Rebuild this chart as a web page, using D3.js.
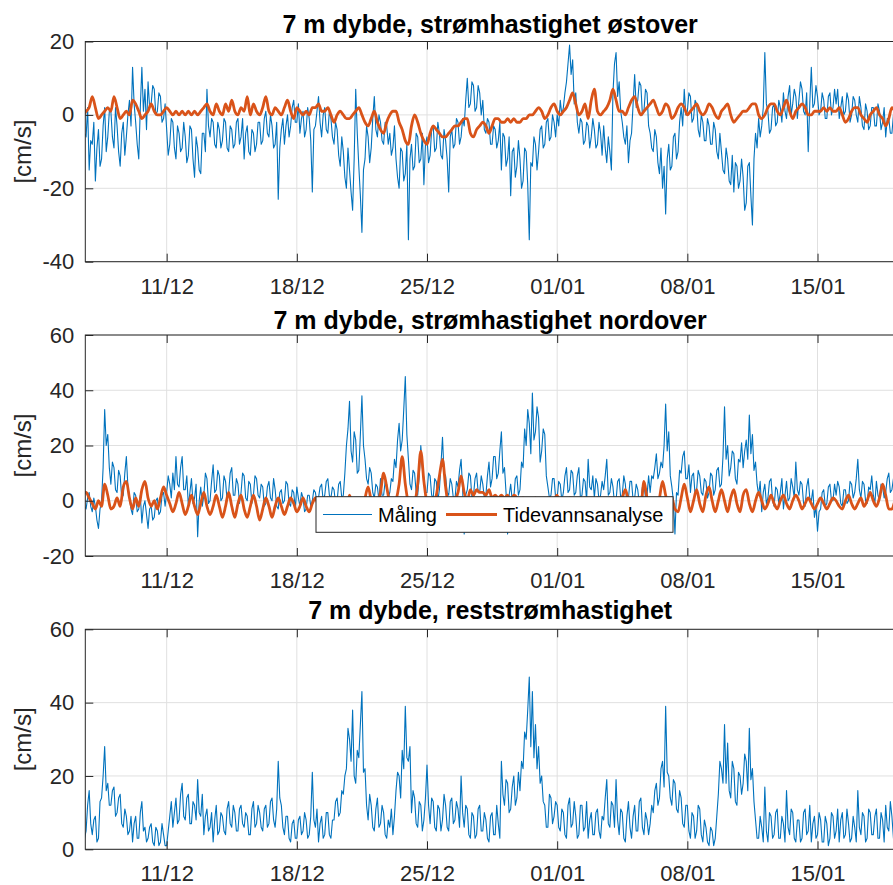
<!DOCTYPE html>
<html>
<head>
<meta charset="utf-8">
<script src="https://cdn.jsdelivr.net/npm/d3@7"></script>
<style>
    body { margin: 0; background: #fff; }
    svg { display: block; font-family: "Liberation Sans", Arial, Helvetica, sans-serif; }
</style>
</head>
<body>
<div id="d3-container"></div>
<script>
// Time base: first sample 06/12 00:00; measurements every 2 h, tidal analysis every 4 h
const startTime = Date.UTC(2022, 11, 6, 0, 0);
const stepHours = 2;
const tideStepHours = 4;

// 7 m depth, eastward current speed [cm/s] (one row per day, 06/12 .. 19/01)
const eastMeasured = [
    2, -3, 0, 4, 3, -2, 4, -5, -6, 2, -15, -7,
    -8, -2, -18, -9, -4, -14, -12, -3, 2, -10, -6, 1,
    1, -6, -9, 2, -3, -10, -14, -5, -2, -11, -6, 0,
    4, -3, 13, 3, -2, -8, -12, 2, 13, 1, 7, -4,
    9, 2, 3, 8, 7, 0, 1, 6, 5, -2, -1, 3,
    -4, -11, -8, -1, -2, -9, -12, -3, -5, -10, -9, -2,
    -6, -13, -11, -3, -4, -12, -17, -6, -9, -15, -16, -5,
    -5, -10, 7, -3, -6, -1, -2, -8, -9, -2, -4, -9,
    -7, -1, -2, -9, -10, -3, -4, -9, -8, -2, -1, -8,
    -6, -1, -12, -5, -3, -10, -11, -4, -5, -10, -8, -2,
    -2, -8, -7, -1, 1, -5, -6, 0, -3, -9, -8, -2,
    -23, -9, -4, -1, -8, -3, 0, -6, -3, 2, 4, -2,
    -2, 3, -5, -1, 1, -6, -4, 2, -1, -7, -21, -4,
    -3, 1, 5, -2, -6, 0, 2, -4, -5, 1, -1, -6,
    -8, -2, -4, -11, -14, -6, -10, -17, -20, -9, -15, -21,
    -26, -12, 7, -5, -14, -22, -32, -15, -12, -3, -6, -13,
    -9, -1, 5, -4, -6, 0, -2, -7, -8, -2, -3, -8,
    -5, -11, -9, -3, -12, -17, -20, -9, -10, -18, -16, -8,
    -34, -12, -8, -15, -14, -5, -6, -13, -12, -5, -19, -8,
    -6, -13, -11, -4, -3, -10, -9, -2, -5, -11, -12, -4,
    -7, -12, -21, -6, -4, -9, -8, -1, -2, -8, -6, -1,
    -3, 4, 10, 2, 3, 9, 8, 1, 2, 8, 6, 0,
    4, -4, -5, -1, -2, -8, -8, -3, -4, -9, -7, -2,
    -15, -5, -6, -14, -12, -6, -22, -10, -9, -17, -14, -7,
    -12, -20, -18, -9, -10, -19, -34, -13, -14, -6, -8, -15,
    -10, -4, -3, -9, -8, -2, -1, -7, -6, 0, -2, -6,
    0, -3, 4, 0, 2, 6, 9, 14, 19, 11, 15, 3,
    6, -2, -5, -1, -2, -8, -7, -2, -3, -9, -6, -1,
    -4, -9, -8, -2, -5, -11, -3, -9, -13, -6, -10, -15,
    6, 14, 17, 5, 9, 1, -2, -6, -8, -3, -13, -7,
    -5, 3, 11, 2, 4, 9, 8, 0, 1, 7, 6, -3,
    -5, -9, -10, -4, -6, -13, -16, -9, -20, -14, -27, -12,
    -8, -15, -14, -6, -5, -12, -10, -2, 2, -3, 7, 0,
    1, 6, 5, -2, -1, 4, 3, -4, -6, 0, -2, -7,
    -7, -1, -3, -8, -8, -2, -4, -10, -12, -5, -10, -15,
    -16, -9, -12, -18, -19, -11, -21, -13, -14, -20, -18, -12,
    -17, -26, -24, -14, -13, -22, -30, -12, -5, -9, -1, -6,
    -3, 2, 17, 3, 1, -5, -4, 2, 3, -3, -2, 4,
    2, -2, 6, 1, -1, 5, 8, 0, 3, 7, 5, -1,
    4, 9, 7, 1, 0, 6, -10, 3, 13, 2, 3, 8,
    5, 0, 1, 6, 4, -1, -1, 5, 6, 0, 2, 7,
    3, 7, -1, 2, 5, 0, 1, 6, 4, -2, 0, 5,
    4, 0, -2, 5, 2, -3, -4, 3, 1, -4, -3, 2,
    2, -3, -3, 3, 1, -4, -2, 2, -6, -1, -1, -5,
    -5, 0, -3, -7, -6, 0, -2, -6, -4, 1, -3, -5
];

const eastTide = [
    1, 2, 1, 0, 1, 2,
    5, 2, -1, 0, 1, 2,
    1, 5, 2, -1, 0, 1,
    0, 4, 3, 1, -1, 0,
    1, 3, 1, 0, 0, 1,
    2, 1, 0, 1, 0, 1,
    0, 1, 0, 1, 0, 1,
    2, 3, 1, 0, 3, 1,
    0, 3, 1, 4, 1, 0,
    2, 1, 5, 0, 3, 1,
    0, 2, 5, 1, 0, 2,
    1, 0, 2, 4, 1, -1,
    2, 1, 0, 1, 0, 2,
    2, 3, 1, 1, 2, 0,
    -2, 0, 1, 0, -1, -1,
    0, 1, 2, 0, -2, -3,
    -1, 1, -2, -4, -5, -2,
    0, 1, 1, -2, -4, -7,
    -8, -3, 0, -2, -5, -7,
    -8, -5, -3, -4, -5, -6,
    -6, -5, -4, -3, -3, -2,
    -1, -1, -5, -6, -4, -3,
    -2, -3, -5, -3, -1, -1,
    -2, -2, -1, -2, -1, -2,
    -2, -1, -1, 0, 0, 1,
    2, 1, -1, 0, 2, 3,
    1, 0, 1, 2, 4, 6,
    3, 0, 1, 3, -1, 4,
    7, 1, 0, 1, 2, 4,
    7, 4, 1, 1, 0, 2,
    4, 5, 2, 0, 1, 2,
    3, 4, 2, 0, 1, 3,
    2, -1, 0, 2, 3, 2,
    0, 1, 2, 3, 1, 0,
    1, 3, 2, 0, -1, 1,
    2, 3, 0, -2, -1, 0,
    1, 1, 2, 3, 3, 0,
    -1, 0, 2, 3, 3, 1,
    0, 2, 4, 1, -1, 1,
    2, 3, 2, 0, 0, 1,
    1, 1, 2, 1, 2, 1,
    1, 2, 0, -2, -1, 1,
    2, 2, 0, -1, -2, 0,
    1, 2, 0, -1, -3, -1,
    2, 1, 0, 1, 0, 1
];

// 7 m depth, northward current speed [cm/s]
const northMeasured = [
    0, 3, 1, -2, -1, 3, 2, -2, -3, 1, 3, -2,
    -4, 1, -2, -7, -10, -3, 0, 12, 33, 20, 24, 12,
    6, 14, 12, 4, 3, 11, 9, 1, 2, 10, 16, 5,
    1, -3, -5, 3, 2, -4, -3, 2, -8, -2, 0, -5,
    -10, -3, -2, -7, -6, 0, 1, -5, -4, 2, 3, -2,
    3, 9, 6, 1, 10, 4, 16, 6, 5, 12, 16, 4,
    4, 9, -2, 3, 8, -1, 1, 6, -13, 0, 5, -2,
    2, 10, 8, -1, 0, 7, 13, 3, 4, 11, 9, 0,
    1, 9, 7, 0, 3, 10, 12, 2, 2, 8, 6, -1,
    3, 10, 9, 1, 0, 7, 6, -1, 2, 9, 8, 2,
    1, 6, 5, -2, -1, 5, 7, 1, 0, 8, 4, -2,
    -3, 3, 4, -1, 0, 7, 6, -1, -2, 4, 3, -3,
    5, 1, -2, 3, 1, -4, -3, 2, 2, -2, 0, 4,
    3, -1, 1, 5, 6, 0, 2, 7, 8, 2, 1, 5,
    4, -1, 0, 6, 7, 1, 2, 10, 20, 26, 36, 18,
    14, 25, 22, 10, 11, 24, 38, 20, 15, 8, 6, 12,
    10, 3, 1, 6, 5, 0, 8, 2, 2, 7, 6, 1,
    3, 8, 7, 15, 12, 22, 28, 18, 22, 33, 45, 24,
    15, 6, 4, 11, 10, 3, 2, 9, 20, 12, 8, 3,
    3, 10, 9, 2, 1, 8, 7, 0, 4, 13, 23, 10,
    9, 3, 2, 8, 6, 1, 0, 7, 5, 11, 15, 4,
    -12, 2, 4, 10, 9, 1, 2, 8, 10, 3, 3, 9,
    6, 1, 2, 9, 14, 5, 8, 16, 16, 8, 10, 18,
    25, 10, 12, 3, -12, 2, 6, 0, 1, 8, 9, 2,
    4, 14, 12, 26, 20, 33, 28, 17, 39, 22, 25, 34,
    30, 14, 18, 26, 24, 9, 5, 1, 2, 8, 8, 1,
    1, 7, 6, 0, 3, 9, 12, 3, 4, 11, 10, 2,
    3, 9, 12, 1, 2, 8, 7, 0, 15, 5, 4, 9,
    1, 8, 6, 0, 2, 7, 4, 9, 15, 2, 3, 8,
    5, -1, 0, 7, 8, 1, 2, 9, 6, -1, 1, 7,
    7, 0, 1, 6, 4, -1, 0, 5, 6, 1, 2, 9,
    3, 9, 8, 12, 17, 8, 10, 14, 12, 20, 35, 18,
    25, 9, 5, 0, -12, 3, 2, 11, 10, 16, 18, 8,
    8, 13, 3, 9, 10, 2, 4, 11, 9, 3, 2, 8,
    7, 1, 3, 10, 9, 2, 4, 11, 12, 5, 6, 16,
    34, 15, 20, 9, 12, 18, 17, 8, 6, 15, 14, 21,
    12, 18, 22, 15, 31, 17, 24, 11, 14, 6, 2, 7,
    -4, 3, 6, -1, 1, 7, 8, 0, -2, 5, 4, -1,
    3, 8, -3, 2, 7, 0, 1, 8, 5, 1, 14, 4,
    2, 7, 6, -1, -2, 5, 8, 1, 0, 4, -6, -2,
    -11, -4, -3, 3, 4, -2, -1, 5, 6, 0, 0, 6,
    2, 7, 5, -1, -2, 4, 4, -1, 0, 7, 6, 1,
    3, 8, 15, 4, 1, 7, 6, 0, -1, 5, 4, 9,
    2, -1, 7, 2, 0, 6, 5, 1, 3, 8, 10, 3,
    4, 8, 6, 0, 1, 5, 3, -1, 0, 6, 2, 7
];

const northTide = [
    0, 2, -1, 3, 3, 1,
    -1, -3, 0, -2, 6, 2,
    -3, -2, 1, -2, 5, 7,
    1, -3, 1, -2, 4, 7,
    1, -2, 0, -3, 1, 5,
    2, -1, -4, -1, 3, -1,
    -5, -2, 2, -2, -5, -1,
    3, -2, -5, -2, 2, -2,
    -6, -2, 3, -2, -6, -1,
    2, -3, -6, -2, 2, -2,
    -7, -3, 1, -2, -6, -2,
    1, -2, -5, -2, 1, -1,
    -4, -2, 1, -2, -4, -1,
    1, -2, -4, -1, 1, -2,
    -4, -1, 0, -2, -3, 2,
    -2, -3, 0, -3, 1, 5,
    0, -3, -1, 3, 10, 5,
    -1, -3, 0, 6, 16, 6,
    -1, -3, -1, 6, 18, 7,
    -1, -3, -1, 2, 9, 15,
    5, -2, -3, 0, 3, 9,
    3, 0, 4, 2, 4, 3,
    3, 2, 4, 1, 2, 1,
    2, 1, 2, 0, 2, 1,
    -2, 1, -3, 0, -2, 1,
    -3, 0, -2, 1, -3, 0,
    2, -2, 0, -3, 1, -1,
    -3, 0, -2, 1, -3, 0,
    -2, 1, -3, 0, -2, 1,
    -3, 0, -2, 1, 4, 0,
    -3, -1, 0, -2, 7, 1,
    -3, 0, -2, 1, 7, 2,
    -2, 1, -3, -4, 1, 6,
    1, -4, 0, 4, -1, -4,
    2, 5, 0, -4, 0, 4,
    0, -4, 1, 4, -1, -4,
    2, 4, -1, -4, 0, 3,
    0, -3, -1, 2, -1, -3,
    0, 2, -1, -3, 0, 2,
    0, -3, -1, 1, -1, -3,
    -1, 1, -1, -3, -1, 1,
    0, -2, -3, 0, 2, -1,
    -3, -1, 1, -2, 0, 3,
    0, -2, 1, 6, 2, -3,
    -3, 0, 2, -1, -3, 0
];

// 7 m depth, residual current speed [cm/s]
const residualSpeed = [
    6, 11, 8, 4, 5, 10, 9, 3, 5, 12, 16, 7,
    4, 8, 9, 2, 3, 13, 14, 20, 28, 16, 18, 12,
    12, 16, 17, 9, 10, 14, 15, 7, 6, 11, 9, 4,
    5, 9, 2, 7, 9, 3, 3, 10, 13, 5, 6, 2,
    3, 6, 7, 2, 1, 6, 5, 1, 2, 7, 4, 1,
    1, 5, 9, 13, 6, 10, 14, 7, 8, 15, 18, 9,
    8, 14, 15, 7, 7, 13, 12, 8, 19, 10, 9, 15,
    4, 9, 11, 5, 6, 10, 2, 8, 12, 4, 5, 10,
    9, 5, 4, 11, 13, 7, 6, 12, 10, 5, 5, 11,
    12, 7, 6, 10, 9, 4, 4, 11, 13, 6, 7, 12,
    10, 6, 5, 11, 12, 6, 7, 13, 14, 8, 6, 11,
    24, 14, 12, 6, 4, 9, 9, 3, 2, 7, 8, 3,
    3, 8, 9, 4, 5, 10, 8, 3, 4, 9, 21, 8,
    6, 11, 2, 7, 9, 3, 4, 10, 10, 4, 3, 8,
    8, 13, 14, 9, 10, 16, 15, 20, 22, 33, 30, 24,
    38, 20, 18, 27, 25, 34, 43, 21, 22, 12, 8, 15,
    12, 6, 5, 11, 14, 6, 7, 12, 10, 4, 3, 8,
    6, 11, 4, 9, 16, 21, 20, 14, 27, 22, 39, 25,
    24, 28, 10, 16, 14, 7, 6, 13, 12, 5, 8, 14,
    23, 12, 7, 14, 13, 6, 5, 12, 11, 5, 8, 15,
    12, 6, 5, 13, 14, 7, 8, 13, 11, 6, 20, 10,
    6, 12, 11, 4, 3, 10, 9, 3, 4, 11, 12, 5,
    5, 10, 8, 3, 2, 9, 10, 4, 4, 12, 7, 3,
    24, 15, 12, 19, 18, 10, 11, 17, 20, 12, 14, 21,
    16, 24, 22, 32, 30, 38, 47, 28, 43, 25, 34, 22,
    28, 18, 20, 13, 12, 6, 6, 15, 14, 7, 9, 13,
    12, 6, 5, 11, 10, 4, 3, 12, 14, 6, 7, 13,
    9, 3, 4, 12, 12, 5, 6, 13, 3, 8, 10, 4,
    4, 10, 11, 5, 3, 9, 8, 14, 19, 7, 6, 13,
    12, 6, 19, 8, 4, 11, 10, 3, 2, 9, 13, 6,
    3, 9, 12, 5, 5, 13, 14, 6, 4, 10, 8, 4,
    7, 12, 10, 16, 18, 12, 14, 22, 24, 17, 39, 21,
    20, 14, 12, 19, 18, 11, 10, 16, 14, 7, 6, 12,
    12, 5, 3, 10, 9, 3, 5, 12, 11, 4, 2, 8,
    6, 2, 1, 6, 5, 1, 3, 9, 15, 24, 22, 18,
    34, 18, 29, 16, 14, 24, 22, 13, 12, 21, 20, 15,
    18, 26, 24, 16, 33, 19, 22, 13, 8, 3, 3, 9,
    6, 2, 17, 5, 2, 10, 9, 3, 4, 10, 11, 3,
    3, 9, 7, 2, 16, 6, 4, 11, 10, 3, 2, 8,
    8, 2, 3, 10, 11, 4, 5, 12, 2, 7, 9, 3,
    4, 10, 8, 2, 2, 9, 7, 1, 3, 10, 9, 3,
    5, 11, 2, 8, 10, 3, 4, 11, 7, 2, 3, 9,
    6, 2, 16, 6, 4, 10, 9, 2, 3, 11, 10, 4,
    4, 9, 11, 3, 3, 10, 8, 2, 12, 6, 5, 13,
    9, 3, 4, 12, 11, 5, 6, 13, 3, 9, 8, 4
];

// Axis ticks and texts
const dateTicks = [
    Date.UTC(2022, 11, 11), Date.UTC(2022, 11, 18), Date.UTC(2022, 11, 25),
    Date.UTC(2023, 0, 1), Date.UTC(2023, 0, 8), Date.UTC(2023, 0, 15)
];
const eastTicks = [-40, -20, 0, 20];
const northTicks = [-20, 0, 20, 40, 60];
const residualTicks = [0, 20, 40, 60];
const panelTitles = [
    "7 m dybde, strømhastighet østover",
    "7 m dybde, strømhastighet nordover",
    "7 m dybde, reststrømhastighet"
];
const legendLabels = ["Måling", "Tidevannsanalyse"];
const yLabel = "[cm/s]";

// Graph properties
const width = 893;
const height = 885;
const left = 85.3;
const right = 895;   // the right border sits just outside the picture
const blue = "#0072BD";
const orange = "#D95319";
const axisColor = "#262626";
const gridColor = "#e0e0e0";

const svg = d3.select("#d3-container")
    .append("svg")
    .attr("width", width)
    .attr("height", height);

const x = d3.scaleUtc()
    .domain([Date.UTC(2022, 11, 6, 15), Date.UTC(2023, 0, 19, 4)])
    .range([left, right]);

const panels = [
    { top: 41.5, bottom: 261.7, domain: [-40, 20], ticks: eastTicks,
      measured: eastMeasured, tide: eastTide, title: panelTitles[0], titleY: 32.5 },
    { top: 335, bottom: 556, domain: [-20, 60], ticks: northTicks,
      measured: northMeasured, tide: northTide, title: panelTitles[1], titleY: 328.5, legend: true },
    { top: 629.3, bottom: 849.3, domain: [0, 60], ticks: residualTicks,
      measured: residualSpeed, tide: null, title: panelTitles[2], titleY: 618.5 }
];

panels.forEach((p, k) => {
    const y = d3.scaleLinear().domain(p.domain).range([p.bottom, p.top]);
    const g = svg.append("g");

    // Grid
    g.append("g")
        .selectAll("line")
        .data(dateTicks)
        .join("line")
            .attr("x1", d => x(d)).attr("x2", d => x(d))
            .attr("y1", p.top).attr("y2", p.bottom)
            .attr("stroke", gridColor).attr("stroke-width", 1);
    g.append("g")
        .selectAll("line")
        .data(p.ticks)
        .join("line")
            .attr("x1", left).attr("x2", right)
            .attr("y1", d => y(d)).attr("y2", d => y(d))
            .attr("stroke", gridColor).attr("stroke-width", 1);

    // Clip the series to the axes box
    const clipId = "clip" + k;
    svg.append("clipPath").attr("id", clipId)
        .append("rect")
        .attr("x", left).attr("y", p.top)
        .attr("width", right - left).attr("height", p.bottom - p.top);

    const measuredLine = d3.line()
        .x((d, i) => x(startTime + i * stepHours * 3600e3))
        .y(d => y(d));

    const tideLine = d3.line()
        .x((d, i) => x(startTime + i * tideStepHours * 3600e3))
        .y(d => y(d))
        .curve(d3.curveMonotoneX);

    g.append("path")
        .datum(p.measured)
        .attr("clip-path", `url(#${clipId})`)
        .attr("fill", "none")
        .attr("stroke", blue)
        .attr("stroke-width", 1.1)
        .attr("stroke-linejoin", "round")
        .attr("d", measuredLine);

    if (p.tide) {
        g.append("path")
            .datum(p.tide)
            .attr("clip-path", `url(#${clipId})`)
            .attr("fill", "none")
            .attr("stroke", orange)
            .attr("stroke-width", 2.8)
            .attr("stroke-linejoin", "round")
            .attr("d", tideLine);
    }

    // Axes: ticks point inwards, box drawn on top
    g.append("g")
        .attr("transform", `translate(0,${p.bottom})`)
        .call(d3.axisBottom(x).tickValues(dateTicks)
            .tickFormat(d3.utcFormat("%d/%m"))
            .tickSizeInner(-8).tickSizeOuter(0).tickPadding(16.5))
        .call(a => a.select(".domain").remove())
        .attr("font-size", "22px")
        .attr("font-family", null)
        .call(a => a.selectAll("line").attr("stroke", axisColor))
        .call(a => a.selectAll("text").attr("fill", axisColor));

    g.append("g")
        .attr("transform", `translate(0,${p.top})`)
        .call(d3.axisTop(x).tickValues(dateTicks).tickFormat("")
            .tickSizeInner(-8).tickSizeOuter(0))
        .call(a => a.select(".domain").remove())
        .call(a => a.selectAll("line").attr("stroke", axisColor));

    g.append("g")
        .attr("transform", `translate(${left},0)`)
        .call(d3.axisLeft(y).tickValues(p.ticks)
            .tickFormat(d => String(d))
            .tickSizeInner(-8).tickSizeOuter(0).tickPadding(11))
        .call(a => a.select(".domain").remove())
        .attr("font-size", "22px")
        .attr("font-family", null)
        .call(a => a.selectAll("line").attr("stroke", axisColor))
        .call(a => a.selectAll("text").attr("fill", axisColor));

    g.append("rect")
        .attr("x", left).attr("y", p.top)
        .attr("width", right - left).attr("height", p.bottom - p.top)
        .attr("fill", "none")
        .attr("stroke", axisColor)
        .attr("stroke-width", 1);

    // Title and y label
    g.append("text")
        .attr("x", (left + right) / 2)
        .attr("y", p.titleY)
        .attr("text-anchor", "middle")
        .attr("font-size", "25px")
        .attr("font-weight", "bold")
        .attr("fill", "#000")
        .text(p.title);

    g.append("text")
        .attr("transform", `translate(31,${(p.top + p.bottom) / 2}) rotate(-90)`)
        .attr("text-anchor", "middle")
        .attr("font-size", "24px")
        .attr("fill", axisColor)
        .text(yLabel);

    // Legend in the middle panel
    if (p.legend) {
        const lg = g.append("g");
        const ly = 514.5;
        lg.append("rect")
            .attr("x", 316).attr("y", 496.7)
            .attr("width", 357).attr("height", 35.6)
            .attr("fill", "#fff")
            .attr("stroke", axisColor)
            .attr("stroke-width", 1);
        const items = [
            { label: legendLabels[0], color: blue, w: 1.1, x0: 323, x1: 372, tx: 378 },
            { label: legendLabels[1], color: orange, w: 2.8, x0: 446, x1: 497, tx: 503 }
        ];
        items.forEach(it => {
            lg.append("line")
                .attr("x1", it.x0).attr("x2", it.x1)
                .attr("y1", ly).attr("y2", ly)
                .attr("stroke", it.color)
                .attr("stroke-width", it.w);
            lg.append("text")
                .attr("x", it.tx).attr("y", 521.5)
                .attr("font-size", "20px")
                .attr("fill", "#000")
                .text(it.label);
        });
    }
});
</script>
</body>
</html>
